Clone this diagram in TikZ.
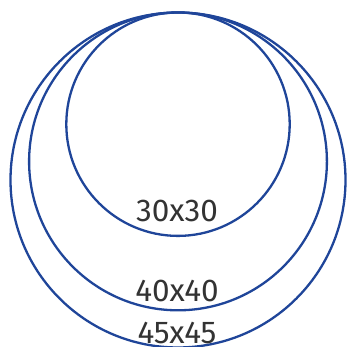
\documentclass[tikz,border=0pt]{standalone}
\usepackage{fontspec}
\setmainfont{Fira Sans}
\usetikzlibrary{calc}
\definecolor{ringblue}{HTML}{1F4599}
\definecolor{labelgray}{HTML}{333333}
\tikzset{
	ring/.style={draw=ringblue, line width=2.3pt},
	size label/.style={text=labelgray, anchor=base, inner sep=0pt,
		font=\fontsize{31.5}{31.5}\selectfont},
}
\begin{document}
\begin{tikzpicture}[x=1pt, y=1pt]
	\useasboundingbox (0,0) rectangle (347,347);
	% Circles, all touching at the top
	\coordinate (top) at (178,334.5);
	\foreach \s/\r in {30/111.7, 40/148.9, 45/167.5}{
		\coordinate (c\s) at ($(top)-(0,\r)$);
		\draw[ring] (c\s) circle (\r);
	}
	% Labels
	\node[size label] (l30) at (177,125) {30x30};
	\node[size label] (l40) at (177,45) {40x40};
	\node[size label] (l45) at (177,4) {45x45};
\end{tikzpicture}
\end{document}
